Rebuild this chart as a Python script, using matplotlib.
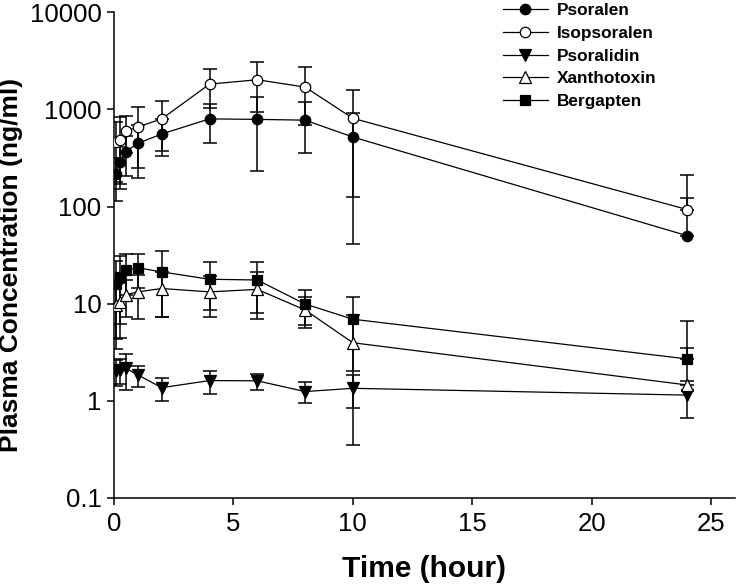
import numpy as np
import matplotlib
matplotlib.use("Agg")
import matplotlib.pyplot as plt

plt.rcParams["font.family"] = ["Liberation Sans", "DejaVu Sans"]

# sampling times (hour)
times = [0.083, 0.25, 0.5, 1, 2, 4, 6, 8, 10, 24]

# mean concentrations (ng/ml) and SD
psoralen = [215, 290, 367, 448, 559, 800, 790, 776, 520, 50]
psoralen_sd = [100, 120, 160, 250, 230, 345, 560, 420, 395, 71]

isopsoralen = [465, 490, 602, 660, 800, 1824, 2024, 1700, 811, 93]
isopsoralen_sd = [285, 340, 250, 410, 430, 785, 1080, 1010, 770, 117]

psoralidin = [2.0, 2.07, 2.15, 1.84, 1.36, 1.61, 1.6, 1.24, 1.34, 1.14]
psoralidin_sd = [0.6, 0.6, 0.85, 0.45, 0.37, 0.43, 0.3, 0.3, 0.5, 0.47]

xanthotoxin = [9.6, 10.4, 12.3, 13.2, 14.3, 13.2, 14.0, 8.6, 3.95, 1.45]
xanthotoxin_sd = [6.2, 6.0, 5.0, 6.3, 7.0, 6.0, 7.0, 3.0, 3.6, 2.0]

bergapten = [15.8, 18.7, 22.2, 23.4, 21.2, 17.8, 17.5, 9.9, 6.9, 2.69]
bergapten_sd = [11.5, 12.5, 10.0, 9.0, 14.0, 9.2, 9.5, 3.9, 4.9, 4.0]

labels = ["Psoralen", "Isopsoralen", "Psoralidin", "Xanthotoxin", "Bergapten"]

series = [
    (psoralen, psoralen_sd, "o", "black"),
    (isopsoralen, isopsoralen_sd, "o", "white"),
    (psoralidin, psoralidin_sd, "v", "black"),
    (xanthotoxin, xanthotoxin_sd, "^", "white"),
    (bergapten, bergapten_sd, "s", "black"),
]

W, H = 739, 588
fig = plt.figure(figsize=(W / 100, H / 100), dpi=100)
ax = fig.add_axes([114 / W, 1 - 497.7 / H, (735 - 114) / W, (497.7 - 12.4) / H])

t = np.array(times)
for (vals, sd, marker, face), label in zip(series, labels):
    v = np.array(vals)
    s = np.array(sd)
    # lower bar is dropped where mean - SD would fall below zero (log axis)
    lower = np.where(v - s > 0, s, 0)
    ax.errorbar(t, v, yerr=[lower, s], fmt="none", ecolor="black",
                elinewidth=1.1, capsize=5, capthick=1.1, zorder=2)
    msize = 7.5 if marker == "o" else 8
    if marker == "s":
        msize = 7
    ax.plot(t, v, color="black", linewidth=0.9, marker=marker, markersize=msize,
            markerfacecolor=face, markeredgecolor="black", markeredgewidth=0.9,
            label=label, zorder=3)

ax.set_yscale("log")
ax.set_ylim(0.1, 10000)
ax.set_xlim(0, 26)
ax.set_xticks([0, 5, 10, 15, 20, 25])
ax.set_yticks([0.1, 1, 10, 100, 1000, 10000])
ax.set_yticklabels(["0.1", "1", "10", "100", "1000", "10000"])
ax.yaxis.set_minor_locator(matplotlib.ticker.NullLocator())

for side in ["top", "right"]:
    ax.spines[side].set_visible(False)
for side in ["left", "bottom"]:
    ax.spines[side].set_linewidth(1.1)

ax.tick_params(axis="both", which="major", direction="out", length=5, width=1.1,
               labelsize=18.5)
ax.tick_params(axis="y", pad=4)
ax.tick_params(axis="x", pad=5)

ax.set_xlabel("Time (hour)", fontsize=21.5, fontweight="bold", labelpad=14)
ax.set_ylabel("Plasma Concentration (ng/ml)", fontsize=19, fontweight="bold")
ax.yaxis.set_label_coords(-0.146, 0.48)

ax.legend(loc="upper left", bbox_to_anchor=(503 / W, 1 - 3 / H),
          bbox_transform=fig.transFigure, frameon=False, borderpad=0,
          borderaxespad=0, handlelength=2.6, handletextpad=0.5,
          labelspacing=0.45, prop={"size": 12.4, "weight": "bold"})

fig.savefig("out.png", dpi=100)
